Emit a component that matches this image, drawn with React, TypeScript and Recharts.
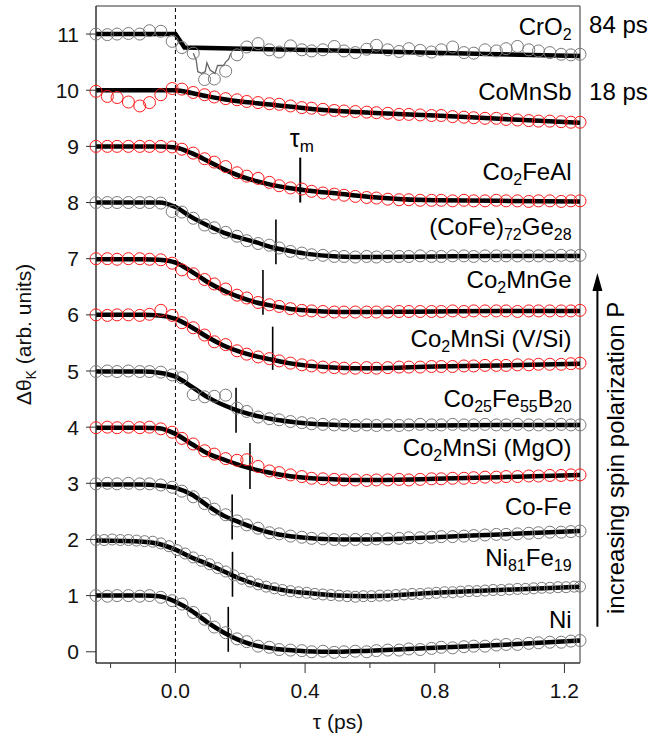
import React from 'react';
import { ComposedChart, Line, XAxis, YAxis, ReferenceLine, ReferenceDot, ReferenceArea, Label } from 'recharts';

const FONT = '"Liberation Sans", Arial, sans-serif';

// sampling times of the markers (ps)
const T = [-0.245, -0.21, -0.18, -0.145, -0.11, -0.08, -0.045, -0.01, 0.02, 0.055,
  0.09, 0.12, 0.155, 0.19, 0.22, 0.255, 0.29, 0.32, 0.355, 0.39,
  0.42, 0.455, 0.49, 0.52, 0.555, 0.59, 0.62, 0.655, 0.69, 0.72,
  0.755, 0.79, 0.82, 0.855, 0.89, 0.92, 0.955, 0.99, 1.02, 1.055,
  1.09, 1.12, 1.155, 1.19, 1.22, 1.248];

const T_NIFE = [-0.245, -0.22, -0.195, -0.17, -0.145, -0.12, -0.095, -0.07, -0.045, -0.02,
  0.005, 0.03, 0.055, 0.08, 0.105, 0.13, 0.155, 0.18, 0.205, 0.23,
  0.255, 0.28, 0.305, 0.33, 0.355, 0.38, 0.405, 0.43, 0.455, 0.48,
  0.505, 0.53, 0.555, 0.58, 0.605, 0.63, 0.655, 0.68, 0.705, 0.73,
  0.755, 0.78, 0.805, 0.83, 0.855, 0.88, 0.905, 0.93, 0.955, 0.98,
  1.005, 1.03, 1.055, 1.08, 1.105, 1.13, 1.155, 1.18, 1.205, 1.23,
  1.248];

// measured (offset) signals
const NI = [1.0, 0.99, 1.0, 1.0, 0.99, 1.0, 0.97, 0.91, 0.85, 0.7,
  0.58, 0.44, 0.34, 0.23, 0.18, 0.1, 0.08, 0.04, 0.03, 0.02,
  0.0, 0.01, -0.01, 0.0, 0.01, 0.0, 0.02, 0.03, 0.03, 0.05,
  0.04, 0.06, 0.08, 0.07, 0.09, 0.1, 0.1, 0.12, 0.13, 0.13,
  0.15, 0.16, 0.17, 0.17, 0.19, 0.2];
const NIFE = [1.99, 1.99, 2.0, 1.99, 1.99, 1.98, 1.97, 1.96, 1.93, 1.88,
  1.81, 1.75, 1.68, 1.62, 1.56, 1.49, 1.43, 1.36, 1.3, 1.25,
  1.2, 1.16, 1.13, 1.1, 1.08, 1.06, 1.05, 1.03, 1.02, 1.01,
  1.0, 0.99, 0.98, 0.99, 0.99, 1.0, 1.0, 1.01, 1.02, 1.03,
  1.03, 1.04, 1.05, 1.06, 1.06, 1.07, 1.08, 1.08, 1.09, 1.1,
  1.1, 1.11, 1.12, 1.12, 1.13, 1.14, 1.14, 1.15, 1.15, 1.16,
  1.16];
const COFE = [2.99, 3.0, 2.99, 3.0, 2.99, 2.99, 2.97, 2.93, 2.86, 2.76,
  2.64, 2.54, 2.44, 2.33, 2.26, 2.2, 2.12, 2.1, 2.06, 2.04,
  2.02, 2.01, 2.0, 1.99, 2.0, 2.0, 2.01, 2.01, 2.02, 2.03,
  2.03, 2.04, 2.05, 2.05, 2.06, 2.07, 2.08, 2.09, 2.09, 2.1,
  2.11, 2.12, 2.13, 2.13, 2.14, 2.15];
const MGO = [3.99, 4.0, 3.99, 4.0, 3.99, 4.0, 3.97, 3.91, 3.8, 3.7,
  3.58, 3.52, 3.44, 3.41, 3.42, 3.3, 3.22, 3.19, 3.15, 3.12,
  3.09, 3.08, 3.07, 3.06, 3.06, 3.05, 3.06, 3.06, 3.07, 3.06,
  3.07, 3.08, 3.08, 3.09, 3.09, 3.1, 3.11, 3.11, 3.12, 3.12,
  3.13, 3.13, 3.14, 3.14, 3.15, 3.15];
const COFEB = [4.99, 5.0, 4.99, 5.0, 4.99, 4.99, 4.98, 4.93, 4.88, 4.58,
  4.54, 4.55, 4.57, 4.34, 4.28, 4.18, 4.15, 4.13, 4.1, 4.08,
  4.06, 4.05, 4.04, 4.04, 4.03, 4.04, 4.03, 4.04, 4.03, 4.04,
  4.05, 4.04, 4.04, 4.05, 4.04, 4.04, 4.05, 4.04, 4.04, 4.05,
  4.04, 4.04, 4.04, 4.05, 4.04, 4.04];
const VSI = [6.0, 5.99, 6.0, 6.0, 5.99, 6.01, 6.08, 5.99, 5.86, 5.77,
  5.64, 5.52, 5.47, 5.36, 5.3, 5.25, 5.22, 5.18, 5.14, 5.11,
  5.09, 5.07, 5.06, 5.05, 5.05, 5.06, 5.05, 5.06, 5.07, 5.07,
  5.07, 5.08, 5.08, 5.08, 5.09, 5.09, 5.1, 5.1, 5.1, 5.11,
  5.11, 5.12, 5.12, 5.12, 5.13, 5.14];
const MNGE = [7.0, 7.0, 6.99, 7.0, 7.0, 6.99, 6.98, 6.92, 6.8, 6.73,
  6.63, 6.55, 6.46, 6.35, 6.3, 6.22, 6.18, 6.15, 6.11, 6.08,
  6.07, 6.06, 6.05, 6.05, 6.05, 6.05, 6.05, 6.05, 6.06, 6.06,
  6.06, 6.06, 6.06, 6.07, 6.06, 6.07, 6.07, 6.07, 6.07, 6.06,
  6.07, 6.07, 6.07, 6.07, 6.07, 6.08];
const COFEGE = [8.0, 8.0, 8.0, 8.0, 8.0, 8.0, 7.99, 7.84, 7.83, 7.72,
  7.6, 7.55, 7.47, 7.4, 7.32, 7.27, 7.24, 7.19, 7.13, 7.1,
  7.07, 7.06, 7.04, 7.04, 7.03, 7.04, 7.03, 7.04, 7.04, 7.04,
  7.05, 7.04, 7.04, 7.05, 7.05, 7.04, 7.05, 7.05, 7.05, 7.05,
  7.05, 7.05, 7.05, 7.06, 7.05, 7.06];
const FEAL = [9.0, 9.0, 9.0, 9.0, 9.0, 9.0, 9.0, 8.99, 8.95, 8.88,
  8.78, 8.72, 8.64, 8.53, 8.47, 8.43, 8.36, 8.3, 8.26, 8.24,
  8.2, 8.17, 8.15, 8.13, 8.11, 8.09, 8.08, 8.06, 8.05, 8.05,
  8.04, 8.04, 8.04, 8.03, 8.04, 8.03, 8.03, 8.04, 8.03, 8.03,
  8.02, 8.03, 8.03, 8.02, 8.03, 8.03];
const MNSB = [9.98, 9.89, 9.87, 9.79, 9.72, 9.78, 9.92, 10.03, 10.02, 9.96,
  9.92, 9.88, 9.85, 9.83, 9.8, 9.78, 9.76, 9.75, 9.72, 9.69,
  9.68, 9.66, 9.64, 9.63, 9.62, 9.61, 9.6, 9.59, 9.57, 9.57,
  9.56, 9.55, 9.55, 9.53, 9.52, 9.51, 9.5, 9.5, 9.48, 9.47,
  9.46, 9.45, 9.45, 9.44, 9.43, 9.43];
const CRO2 = [11.0, 10.99, 11.0, 11.01, 11.0, 11.06, 11.05, 10.87, 10.76, 10.66,
  10.19, 10.2, 10.34, 10.63, 10.77, 10.83, 10.72, 10.68, 10.79, 10.72,
  10.7, 10.72, 10.78, 10.7, 10.67, 10.73, 10.8, 10.72, 10.69, 10.74,
  10.71, 10.68, 10.72, 10.77, 10.67, 10.66, 10.72, 10.7, 10.74, 10.78,
  10.72, 10.7, 10.67, 10.64, 10.63, 10.64];

// raw CrO2 trace in the dip
const CRO2_RAW_T = [0.055, 0.064, 0.069, 0.081, 0.092, 0.097, 0.107, 0.122, 0.13, 0.148, 0.156, 0.164, 0.171];
const CRO2_RAW = [10.66, 10.54, 10.33, 10.3, 10.33, 10.49, 10.36, 10.3, 10.44, 10.44, 10.51, 10.55, 10.66];

// fits
const FIT_T = [-0.245, -0.1, -0.05, 0, 0.05, 0.1, 0.15, 0.2, 0.25, 0.3, 0.35, 0.4, 0.5, 0.6, 0.8, 1.0, 1.248];
const FIT_NI = [1.0, 1.0, 0.99, 0.89, 0.73, 0.52, 0.34, 0.2, 0.11, 0.06, 0.03, 0.01, 0.0, 0.02, 0.07, 0.12, 0.2];
const FIT_NIFE = [1.98, 1.96, 1.92, 1.82, 1.68, 1.56, 1.43, 1.3, 1.2, 1.13, 1.08, 1.05, 1.0, 0.99, 1.05, 1.1, 1.16];
const FIT_COFE = [2.98, 2.98, 2.96, 2.92, 2.8, 2.6, 2.42, 2.3, 2.19, 2.11, 2.06, 2.03, 2.0, 2.0, 2.04, 2.09, 2.15];
const FIT_MGO = [3.99, 3.99, 3.98, 3.88, 3.7, 3.53, 3.42, 3.32, 3.24, 3.18, 3.13, 3.1, 3.07, 3.06, 3.08, 3.11, 3.15];
const FIT_COFEB = [4.99, 4.99, 4.97, 4.9, 4.72, 4.53, 4.39, 4.28, 4.2, 4.14, 4.1, 4.07, 4.04, 4.03, 4.03, 4.04, 4.04];
const FIT_VSI = [6.0, 6.0, 5.99, 5.93, 5.78, 5.6, 5.45, 5.34, 5.26, 5.2, 5.14, 5.1, 5.06, 5.05, 5.08, 5.1, 5.13];
const FIT_MNGE = [6.99, 6.99, 6.98, 6.93, 6.77, 6.58, 6.43, 6.31, 6.22, 6.16, 6.11, 6.08, 6.05, 6.05, 6.06, 6.07, 6.07];
const FIT_COFEGE = [8.0, 8.0, 8.0, 7.92, 7.74, 7.59, 7.46, 7.37, 7.29, 7.2, 7.14, 7.09, 7.04, 7.03, 7.04, 7.05, 7.05];
const FIT_FEAL = [9.0, 9.0, 9.0, 8.98, 8.88, 8.74, 8.59, 8.47, 8.38, 8.31, 8.26, 8.22, 8.16, 8.1, 8.04, 8.03, 8.02];
const FIT_MNSB = [10.0, 10.0, 10.0, 10.0, 9.95, 9.89, 9.84, 9.8, 9.77, 9.74, 9.71, 9.68, 9.63, 9.6, 9.55, 9.49, 9.42];
const FIT_CRO2_T = [-0.245, 0.0, 0.028, 0.45, 1.248];
const FIT_CRO2 = [11.0, 11.0, 10.76, 10.71, 10.61];

// tau_m markers
const MARK_T = [0.385, 0.31, 0.27, 0.30, 0.187, 0.23, 0.175, 0.176, 0.163];
const MARK_LO = [8.0, 6.9, 6.0, 5.02, 3.9, 2.9, 2.0, 0.98, 0.0];
const MARK_HI = [8.8, 7.7, 6.8, 5.79, 4.7, 3.72, 2.8, 1.78, 0.8];

// labels
const LABELS = ['CrO_{2}', 'CoMnSb', 'Co_{2}FeAl', '(CoFe)_{72}Ge_{28}', 'Co_{2}MnGe', 'Co_{2}MnSi (V/Si)',
  'Co_{25}Fe_{55}B_{20}', 'Co_{2}MnSi (MgO)', 'Co-Fe', 'Ni_{81}Fe_{19}', 'Ni'];
const LABEL_Y = [10.98, 9.83, 8.4, 7.42, 6.48, 5.43, 4.36, 3.49, 2.44, 1.53, 0.43];
const LABEL_X = 1.222;
const TIME_LABELS = ['84 ps', '18 ps'];
const TIME_LABEL_Y = [11.02, 9.83];
const TIME_LABEL_X = 1.276;

const X_TICKS = [-0.2, 0, 0.2, 0.4, 0.6, 0.8, 1.0, 1.2];
const X_MAJOR = [0, 0.4, 0.8, 1.2];
const Y_TICKS = [0, 1, 2, 3, 4, 5, 6, 7, 8, 9, 10, 11];
const X_DOMAIN = [-0.245, 1.248];
const Y_DOMAIN = [-0.2, 11.5];

const GRAY = '#7a7a7a';
const RED = '#ff1a1a';

const pts = (t: number[], v: number[]) => t.map((x, i) => ({ x, y: v[i] }));

const SERIES = [
  { key: 'cro2', t: T, v: CRO2, ft: FIT_CRO2_T, f: FIT_CRO2, c: GRAY, r: 6, lin: true },
  { key: 'mnsb', t: T, v: MNSB, ft: FIT_T, f: FIT_MNSB, c: RED, r: 6 },
  { key: 'feal', t: T, v: FEAL, ft: FIT_T, f: FIT_FEAL, c: RED, r: 6 },
  { key: 'cofege', t: T, v: COFEGE, ft: FIT_T, f: FIT_COFEGE, c: GRAY, r: 6 },
  { key: 'mnge', t: T, v: MNGE, ft: FIT_T, f: FIT_MNGE, c: RED, r: 6 },
  { key: 'vsi', t: T, v: VSI, ft: FIT_T, f: FIT_VSI, c: RED, r: 6 },
  { key: 'cofeb', t: T, v: COFEB, ft: FIT_T, f: FIT_COFEB, c: GRAY, r: 6 },
  { key: 'mgo', t: T, v: MGO, ft: FIT_T, f: FIT_MGO, c: RED, r: 6 },
  { key: 'cofe', t: T, v: COFE, ft: FIT_T, f: FIT_COFE, c: GRAY, r: 6 },
  { key: 'nife', t: T_NIFE, v: NIFE, ft: FIT_T, f: FIT_NIFE, c: GRAY, r: 5.5 },
  { key: 'ni', t: T, v: NI, ft: FIT_T, f: FIT_NI, c: GRAY, r: 6 },
];

function rich(src: string, subSize: number, shift: number) {
  const parts = src.split(/(_\{[^}]*\})/).filter((p) => p.length > 0);
  let down = false;
  return parts.map((p, i) => {
    if (p.startsWith('_{')) {
      const el = <tspan key={i} fontSize={subSize} dy={down ? 0 : shift}>{p.slice(2, -1)}</tspan>;
      down = true;
      return el;
    }
    const el = <tspan key={i} dy={down ? -shift : 0}>{p}</tspan>;
    down = false;
    return el;
  });
}

const XTick = (props: any) => {
  const { x, y, payload } = props;
  const v = payload.value;
  const major = X_MAJOR.some((m) => Math.abs(m - v) < 1e-6);
  return (
    <g>
      <line x1={x} x2={x} y1={y} y2={y + (major ? 10 : 5)} stroke="#333" strokeWidth={1} />
      {major && (
        <text x={x} y={y + 35} textAnchor="middle" fontSize={21} fontFamily={FONT} fill="#111">
          {v.toFixed(1)}
        </text>
      )}
    </g>
  );
};

const YTick = (props: any) => {
  const { x, y, payload } = props;
  return (
    <g>
      <line x1={x - 10} x2={x} y1={y} y2={y} stroke="#333" strokeWidth={1} />
      <text x={x - 17} y={y + 7.5} textAnchor="end" fontSize={21} fontFamily={FONT} fill="#111">
        {payload.value}
      </text>
    </g>
  );
};

const YLabel = (props: any) => {
  const vb = props.viewBox || { x: 0, y: 6, width: 96, height: 657 };
  const cx = vb.x + 31;
  const cy = vb.y + vb.height / 2;
  return (
    <text x={cx} y={cy} transform={`rotate(-90, ${cx}, ${cy})`} textAnchor="middle" fontSize={21} fontFamily={FONT} fill="#111">
      {rich('Δθ_{K} (arb. units)', 14, 5)}
    </text>
  );
};

const XLabel = (props: any) => {
  const vb = props.viewBox || { x: 96, y: 663, width: 484, height: 77 };
  return (
    <text x={vb.x + vb.width / 2} y={vb.y + 66} textAnchor="middle" fontSize={21} fontFamily={FONT} fill="#111">
      τ (ps)
    </text>
  );
};

const textShape = (content: any, anchor: string, size: number, rotate = false) => (p: any) => (
  <text
    x={p.cx}
    y={p.cy}
    textAnchor={anchor}
    fontSize={size}
    fontFamily={FONT}
    fill="#000"
    transform={rotate ? `rotate(-90, ${p.cx}, ${p.cy})` : undefined}
  >
    {content}
  </text>
);

const arrowHead = (p: any) => (
  <polygon points={`${p.cx},${p.cy} ${p.cx - 5},${p.cy + 18} ${p.cx + 5},${p.cy + 18}`} fill="#000" />
);

export default function App() {
  return (
    <div style={{ position: 'absolute', left: 0, top: 0, width: 652, height: 740, background: '#fff' }}>
      <ComposedChart width={652} height={740} margin={{ top: 6, right: 72, bottom: 0, left: 0 }}>
        <XAxis
          type="number"
          dataKey="x"
          domain={X_DOMAIN}
          ticks={X_TICKS}
          interval={0}
          tickSize={0}
          tickMargin={0}
          tickLine={false}
          tick={<XTick />}
          axisLine={{ stroke: '#333', strokeWidth: 1 }}
          height={77}
        >
          <Label content={<XLabel />} />
        </XAxis>
        <YAxis
          type="number"
          domain={Y_DOMAIN}
          ticks={Y_TICKS}
          interval={0}
          tickSize={0}
          tickMargin={0}
          tickLine={false}
          tick={<YTick />}
          axisLine={{ stroke: '#333', strokeWidth: 1 }}
          width={96}
        >
          <Label content={<YLabel />} />
        </YAxis>
        <ReferenceArea x1={X_DOMAIN[0]} x2={X_DOMAIN[1]} y1={Y_DOMAIN[0]} y2={Y_DOMAIN[1]} fill="none" fillOpacity={0} stroke="#333" strokeWidth={1} />
        <ReferenceLine x={0} stroke="#000" strokeWidth={1} strokeDasharray="4 3" />

        {SERIES.map((s) => (
          <Line
            key={'d-' + s.key}
            data={pts(s.t, s.v)}
            dataKey="y"
            type="linear"
            stroke="none"
            strokeWidth={0}
            dot={{ r: s.r, stroke: s.c, strokeWidth: 1, fill: 'none' }}
            isAnimationActive={false}
          />
        ))}
        <Line
          data={pts(CRO2_RAW_T, CRO2_RAW)}
          dataKey="y"
          type="linear"
          stroke="#666"
          strokeWidth={1.3}
          dot={false}
          isAnimationActive={false}
        />
        {SERIES.map((s) => (
          <Line
            key={'f-' + s.key}
            data={pts(s.ft, s.f)}
            dataKey="y"
            type={s.lin ? 'linear' : 'monotone'}
            stroke="#000"
            strokeWidth={4.5}
            dot={false}
            isAnimationActive={false}
          />
        ))}

        {MARK_T.map((t, i) => (
          <ReferenceLine
            key={'m' + i}
            segment={[{ x: t, y: MARK_LO[i] }, { x: t, y: MARK_HI[i] }]}
            stroke="#000"
            strokeWidth={i === 0 ? 2 : 1.6}
          />
        ))}

        <ReferenceDot x={0.39} y={8.99} r={1} ifOverflow="visible" shape={textShape(rich('τ_{m}', 17, 5), 'middle', 25)} />

        {LABELS.map((l, i) => (
          <ReferenceDot key={'l' + i} x={LABEL_X} y={LABEL_Y[i]} r={1} ifOverflow="visible" shape={textShape(rich(l, 16, 5), 'end', 24)} />
        ))}
        {TIME_LABELS.map((l, i) => (
          <ReferenceDot key={'t' + i} x={TIME_LABEL_X} y={TIME_LABEL_Y[i]} r={1} ifOverflow="visible" shape={textShape(l, 'start', 24)} />
        ))}

        <ReferenceLine segment={[{ x: 1.3017, y: 0.445 }, { x: 1.3017, y: 6.5 }]} ifOverflow="visible" stroke="#000" strokeWidth={2} />
        <ReferenceDot x={1.3017} y={6.746} r={1} ifOverflow="visible" shape={arrowHead} />
        <ReferenceDot x={1.384} y={3.453} r={1} ifOverflow="visible" shape={textShape('increasing spin polarization P', 'middle', 24, true)} />
      </ComposedChart>
    </div>
  );
}
